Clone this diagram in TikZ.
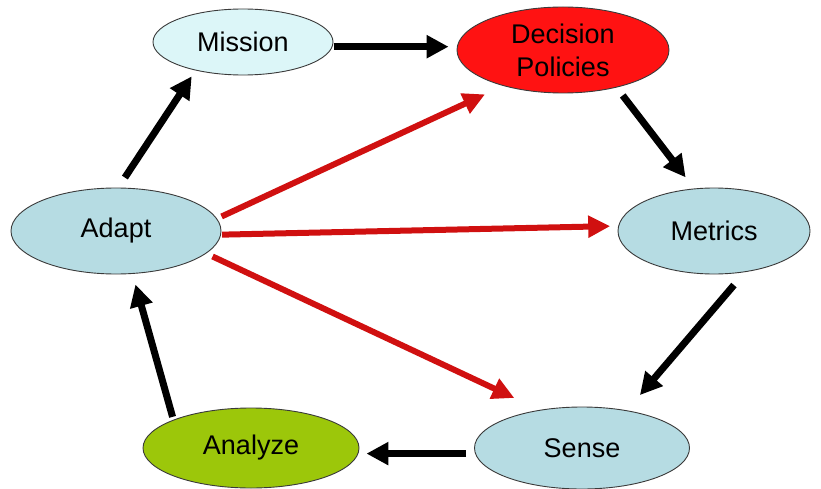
\documentclass[tikz,border=0pt]{standalone}
\usepackage{fontspec}
\setmainfont{Liberation Sans}
\usetikzlibrary{shapes.geometric,arrows.meta}
\definecolor{missionfill}{HTML}{DCF6F8}
\definecolor{decisionfill}{HTML}{FF1212}
\definecolor{bluefill}{HTML}{B6DCE3}
\definecolor{greenfill}{HTML}{9CC70A}
\definecolor{redarrow}{HTML}{D01010}
\definecolor{outline}{HTML}{3A3A3A}
\begin{document}
\begin{tikzpicture}[x=1pt,y=-1pt,
  oval/.style={ellipse, draw=outline, line width=0.9pt, inner sep=0pt,
    font=\fontsize{27}{33}\selectfont, align=center, text=black},
  blk/.style={draw=black, line width=7pt, -{Triangle[length=22pt,width=22pt]}},
  redarr/.style={draw=redarrow, line width=6pt, -{Triangle[length=22pt,width=21pt]}}]
\useasboundingbox (0,0) rectangle (821,489);
\fill[white] (0,0) rectangle (821,489);

\node[oval, fill=missionfill, minimum width=180pt, minimum height=66pt] (mission) at (243,42) {Mission};
\node[oval, fill=decisionfill, minimum width=212pt, minimum height=86pt] (decision) at (563,50) {Decision\\Policies};
\node[oval, fill=bluefill, minimum width=210pt, minimum height=86pt] (adapt) at (116,231) {Adapt};
\node[oval, fill=bluefill, minimum width=192pt, minimum height=86pt] (metrics) at (714,231) {Metrics};
\node[oval, fill=greenfill, minimum width=216pt, minimum height=80pt] (analyze) at (251,448) {Analyze};
\node[oval, fill=bluefill, minimum width=215pt, minimum height=82pt] (sense) at (582,448) {Sense};

% black cycle
\draw[blk, shorten <=1pt, shorten >=8pt] (mission.-3) -- (mission.-3 -| decision.west);
\draw[blk, shorten <=12pt, shorten >=7pt] (adapt.87) -- (mission.211);
\draw[blk, shorten <=10pt, shorten >=14pt] (decision.-35) -- (metrics.115);
\draw[blk, shorten <=17pt, shorten >=20pt] (metrics.-53) -- (sense.40);
\draw[blk, shorten <=9pt, shorten >=7pt] (sense.183) -- (sense.183 -| analyze.east);
\draw[blk, shorten <=3pt, shorten >=11pt] (analyze.160) -- (adapt.-69);

% red arrows
\draw[redarr, shorten <=5pt, shorten >=20pt] (adapt.7) -- (decision.211);
\draw[redarr, shorten <=1pt, shorten >=8pt] (adapt.-2) -- (metrics.177);
\draw[redarr, shorten <=7pt, shorten >=28pt] (adapt.-14) -- (sense.138);
\end{tikzpicture}
\end{document}
